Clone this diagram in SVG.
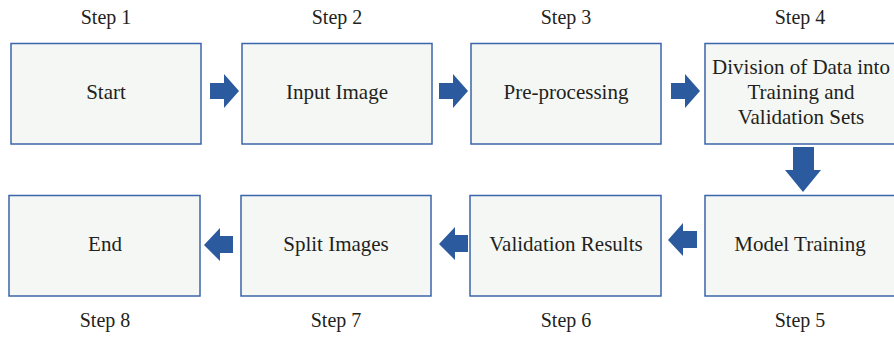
<svg xmlns="http://www.w3.org/2000/svg" width="894" height="338" viewBox="0 0 894 338">
<style>
.box{fill:#f5f7f5;stroke:#3b66ab;stroke-width:1.5}
.t{font-family:"Liberation Serif","Times New Roman",serif;font-size:21px;fill:#231f20;text-anchor:middle}
.s{font-family:"Liberation Serif","Times New Roman",serif;font-size:20px;fill:#231f20;text-anchor:middle}
.arr{fill:#2b5a9e}
</style>
<rect width="894" height="338" fill="#ffffff"/>
<g id="step1">
<text class="s" x="106" y="24">Step 1</text>
<rect class="box" x="11" y="43.5" width="190" height="100.5"/>
<text class="t" x="106" y="99">Start</text>
</g>
<g id="step2">
<text class="s" x="337" y="24">Step 2</text>
<rect class="box" x="242" y="43.5" width="190" height="100.5"/>
<text class="t" x="337" y="99">Input Image</text>
</g>
<g id="step3">
<text class="s" x="566" y="24">Step 3</text>
<rect class="box" x="471" y="43.5" width="190" height="100.5"/>
<text class="t" x="566" y="99">Pre-processing</text>
</g>
<g id="step4">
<text class="s" x="800" y="24">Step 4</text>
<rect class="box" x="705" y="43.5" width="190" height="100.5"/>
<text class="t" x="801" y="74">Division of Data into</text>
<text class="t" x="801" y="99">Training and</text>
<text class="t" x="801" y="124">Validation Sets</text>
</g>
<g id="step5">
<rect class="box" x="705" y="195.5" width="190" height="100.5"/>
<text class="t" x="800" y="251">Model Training</text>
<text class="s" x="800" y="327">Step 5</text>
</g>
<g id="step6">
<rect class="box" x="470" y="195.5" width="191" height="100.5"/>
<text class="t" x="566" y="251">Validation Results</text>
<text class="s" x="566" y="327">Step 6</text>
</g>
<g id="step7">
<rect class="box" x="241" y="195.5" width="190" height="100.5"/>
<text class="t" x="336" y="251">Split Images</text>
<text class="s" x="336" y="327">Step 7</text>
</g>
<g id="step8">
<rect class="box" x="9" y="195.5" width="191" height="100.5"/>
<text class="t" x="105" y="251">End</text>
<text class="s" x="105" y="327">Step 8</text>
</g>
<g id="connectors">
<polygon class="arr" points="210,83 224,83 224,74 239,91 224,108 224,99 210,99"/>
<polygon class="arr" points="439,83 453,83 453,74 468,91 453,108 453,99 439,99"/>
<polygon class="arr" points="671,83 685,83 685,74 700,91 685,108 685,99 671,99"/>
<polygon class="arr" points="793,147 814,147 814,170 821,170 803,192 785,170 793,170"/>
<polygon class="arr" points="697,231 683,231 683,223 668,240 683,256 683,248 697,248"/>
<polygon class="arr" points="468,235 455,235 455,227 439,244 455,260 455,252 468,252"/>
<polygon class="arr" points="233,236 220,236 220,228 204,245 220,261 220,253 233,253"/>
</g>
</svg>
